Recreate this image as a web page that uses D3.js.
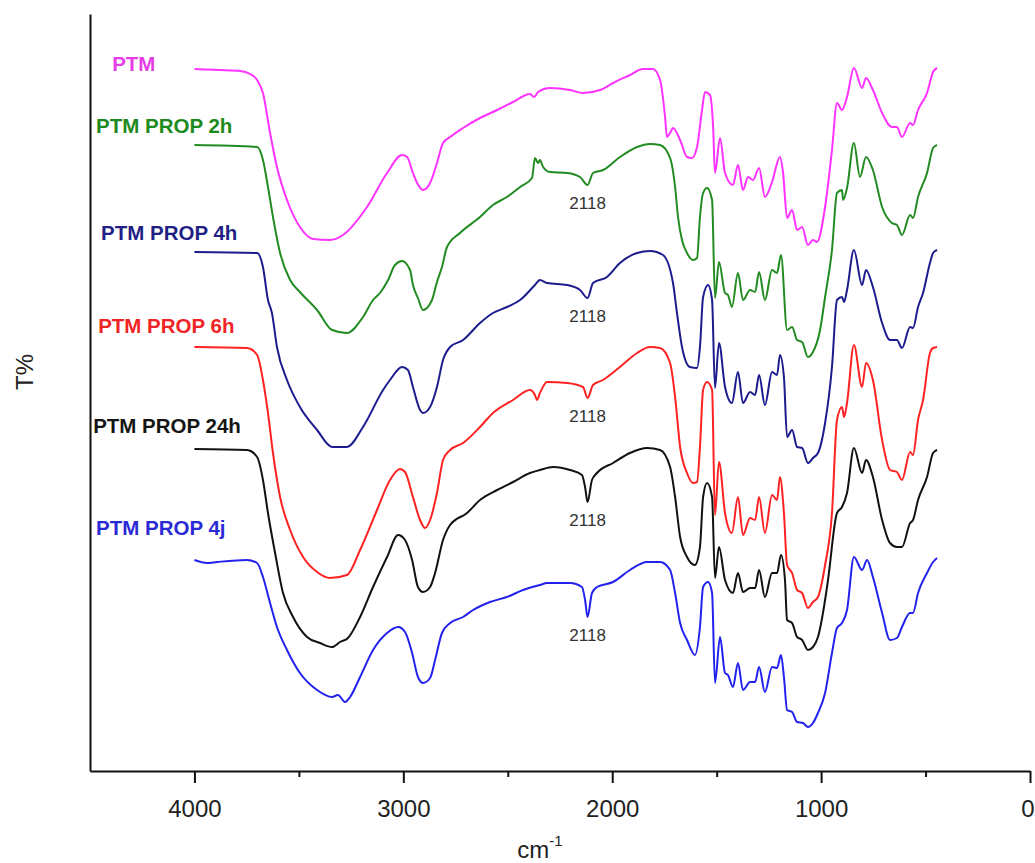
<!DOCTYPE html>
<html><head><meta charset="utf-8">
<script src="https://cdn.jsdelivr.net/npm/d3@7"></script>
<style>
body{margin:0;background:#fff;}
svg{display:block;font-family:"Liberation Sans",Arial,sans-serif;}
</style></head>
<body><svg id="c" width="1035" height="863"></svg>
<script>
// ---- data: [wavenumber cm-1, T% (arbitrary offset units)] ----
const seriesNames = ["PTM","PTM PROP 2h","PTM PROP 4h","PTM PROP 6h","PTM PROP 24h","PTM PROP 4j"];
const xTicksMajor = [4000,3000,2000,1000,0];
const xTicksMinor = [3500,2500,1500,500];
const peakLabel = "2118";
const peakWn = 2118;

const ptm = [[4000,70.2],[3877,70.1],[3782,70.0],[3734,69.7],[3700,69.1],[3672,67.8],[3638,63.8],[3605,60.4],[3557,57.1],[3495,54.4],[3432,53.2],[3351,53.1],[3289,53.6],[3174,56.4],[3078,59.8],[3006,61.6],[2982,61.4],[2954,59.8],[2934,58.8],[2906,58.1],[2872,58.8],[2839,60.8],[2810,62.8],[2776,63.4],[2714,64.3],[2633,65.3],[2551,66.1],[2475,66.9],[2394,67.7],[2374,67.4],[2355,67.9],[2298,68.3],[2202,68.1],[2140,67.8],[2058,68.1],[1996,68.8],[1915,69.6],[1853,70.2],[1805,70.2],[1771,69.1],[1747,65.4],[1738,63.4],[1723,63.8],[1709,64.3],[1675,63.1],[1642,61.4],[1618,61.3],[1594,62.4],[1570,66.1],[1556,67.9],[1532,67.6],[1517,64.4],[1508,59.8],[1484,63.3],[1460,59.8],[1422,58.6],[1398,60.6],[1374,58.1],[1350,59.4],[1326,59.1],[1297,60.3],[1269,57.4],[1235,58.9],[1197,61.4],[1182,59.8],[1163,55.3],[1139,56.1],[1115,54.1],[1091,54.4],[1063,52.6],[1039,53.1],[1020,52.9],[981,56.4],[948,62.1],[924,66.8],[900,66.1],[876,67.4],[843,70.3],[804,68.3],[785,69.3],[752,68.1],[708,65.8],[661,64.4],[637,64.4],[613,63.4],[574,64.8],[560,64.6],[536,66.1],[493,67.8],[464,69.9],[445,70.3]];

const prop2h = [[4000,62.6],[3700,62.4],[3672,61.1],[3648,58.4],[3624,55.4],[3590,51.8],[3542,49.1],[3495,47.9],[3413,46.1],[3341,44.1],[3270,43.8],[3193,45.4],[3145,47.1],[3112,47.8],[3073,49.1],[3040,50.6],[3006,51.0],[2968,50.1],[2954,48.6],[2930,47.3],[2906,46.1],[2863,47.1],[2839,48.9],[2815,50.4],[2791,52.4],[2729,53.8],[2633,55.4],[2571,56.6],[2504,57.4],[2441,58.4],[2384,59.3],[2370,61.3],[2355,60.8],[2346,61.1],[2331,60.4],[2298,59.9],[2216,59.8],[2154,59.4],[2118,58.6],[2092,59.8],[2044,60.1],[1963,61.4],[1881,62.4],[1819,62.7],[1771,62.6],[1723,61.3],[1699,58.4],[1685,55.4],[1666,53.1],[1642,51.8],[1613,51.1],[1594,51.3],[1580,55.4],[1565,57.8],[1546,58.3],[1522,57.1],[1508,47.3],[1489,50.9],[1460,47.8],[1446,47.6],[1427,46.4],[1398,49.8],[1374,47.1],[1340,48.1],[1316,47.9],[1297,49.9],[1269,47.1],[1235,50.1],[1211,49.8],[1192,51.6],[1163,44.1],[1139,44.4],[1115,43.1],[1091,42.9],[1063,41.4],[1039,41.9],[1005,44.1],[981,47.4],[948,52.1],[924,57.8],[900,58.1],[895,57.1],[876,58.3],[843,62.8],[814,59.4],[785,61.4],[752,60.1],[708,56.4],[661,54.8],[637,54.6],[613,53.6],[574,55.6],[560,55.3],[536,57.4],[493,59.8],[464,62.3],[445,62.6]];

const prop4h = [[4000,51.9],[3700,51.8],[3672,50.4],[3648,47.1],[3629,45.8],[3605,42.4],[3557,39.1],[3495,36.4],[3413,34.1],[3341,32.4],[3270,32.4],[3193,34.4],[3097,38.1],[3064,39.1],[3006,40.4],[2978,40.1],[2954,38.4],[2920,36.1],[2906,35.8],[2872,36.4],[2839,38.4],[2810,41.1],[2776,42.4],[2714,43.1],[2633,44.8],[2571,45.8],[2504,46.4],[2441,47.1],[2370,48.6],[2346,49.1],[2312,48.8],[2216,48.6],[2154,48.1],[2118,47.3],[2092,48.8],[2025,49.4],[1963,50.8],[1881,51.8],[1819,52.0],[1757,51.6],[1709,48.8],[1690,45.8],[1666,42.4],[1628,40.4],[1594,40.3],[1580,42.4],[1565,47.4],[1541,48.6],[1522,47.1],[1508,38.3],[1489,42.8],[1460,38.4],[1427,36.8],[1398,39.9],[1374,36.8],[1340,37.9],[1316,37.6],[1297,39.6],[1269,36.6],[1235,39.9],[1211,39.6],[1197,41.6],[1178,39.4],[1163,33.4],[1139,34.1],[1115,32.4],[1091,32.3],[1063,30.8],[1039,31.3],[1015,31.8],[981,34.8],[948,40.4],[924,47.1],[900,47.4],[890,46.9],[876,48.1],[843,52.1],[804,48.6],[785,50.1],[752,48.4],[708,44.8],[670,43.1],[637,43.1],[613,42.3],[574,44.4],[560,44.3],[536,46.4],[512,47.8],[479,50.8],[464,51.8],[445,52.1]];

const prop6h = [[4000,42.4],[3748,42.3],[3700,41.6],[3672,39.1],[3648,35.8],[3624,31.8],[3590,27.4],[3542,24.1],[3480,21.4],[3413,19.9],[3351,19.3],[3270,19.6],[3207,22.1],[3126,26.1],[3064,29.1],[3016,30.2],[2992,29.9],[2954,27.4],[2920,25.1],[2896,24.3],[2872,25.1],[2839,27.8],[2810,31.1],[2776,32.1],[2714,32.8],[2633,34.4],[2571,35.8],[2475,37.1],[2394,38.1],[2370,37.6],[2360,37.1],[2346,37.8],[2312,38.9],[2216,38.8],[2140,38.4],[2118,37.3],[2092,38.6],[2044,39.1],[1963,40.4],[1881,41.8],[1819,42.4],[1771,42.3],[1723,40.8],[1699,37.4],[1675,32.4],[1642,29.8],[1613,28.8],[1594,28.9],[1580,32.4],[1565,38.1],[1546,38.9],[1522,38.1],[1508,25.6],[1489,30.9],[1460,25.8],[1427,23.8],[1398,27.4],[1374,23.6],[1340,25.3],[1316,25.1],[1297,27.4],[1269,23.8],[1235,27.6],[1211,27.1],[1197,29.4],[1178,25.8],[1163,20.6],[1139,19.8],[1115,18.1],[1091,17.8],[1063,16.3],[1039,16.9],[1015,17.4],[981,20.6],[948,25.8],[924,35.1],[900,36.4],[890,35.4],[876,36.8],[843,42.6],[804,38.4],[785,40.8],[752,39.1],[708,33.1],[670,30.1],[637,29.9],[613,29.1],[574,31.9],[560,31.6],[536,35.1],[512,37.1],[479,41.8],[464,42.3],[445,42.4]];

const prop24h = [[4000,32.2],[3748,32.1],[3700,31.4],[3672,29.1],[3648,25.8],[3614,21.8],[3576,17.8],[3528,15.4],[3461,13.4],[3399,12.8],[3341,12.4],[3303,12.9],[3265,13.3],[3207,15.4],[3145,18.4],[3078,21.4],[3025,23.6],[2992,23.1],[2958,21.1],[2930,18.4],[2906,17.9],[2872,18.4],[2848,19.8],[2810,23.1],[2776,24.6],[2695,25.8],[2633,27.1],[2551,28.1],[2475,28.9],[2394,29.8],[2346,30.1],[2283,30.4],[2202,30.1],[2145,29.6],[2130,28.4],[2118,26.9],[2097,29.1],[2073,29.8],[1996,30.8],[1915,31.8],[1833,32.3],[1771,32.1],[1723,30.4],[1699,27.4],[1675,23.4],[1642,21.4],[1604,20.6],[1580,22.4],[1565,27.4],[1546,28.8],[1522,27.4],[1508,19.3],[1489,22.4],[1460,19.1],[1422,17.8],[1398,19.8],[1374,17.9],[1340,18.3],[1316,18.3],[1297,20.1],[1269,17.4],[1235,19.8],[1211,19.8],[1192,21.6],[1173,19.1],[1163,15.1],[1139,14.8],[1115,13.4],[1091,13.1],[1063,12.1],[1039,12.4],[1015,13.4],[981,17.1],[967,19.1],[924,25.8],[900,26.4],[876,27.8],[843,32.3],[804,29.8],[785,31.1],[752,29.4],[708,25.1],[670,22.8],[637,22.4],[613,22.4],[574,24.8],[560,25.1],[536,27.1],[493,29.4],[464,31.8],[445,32.1]];

const prop4j = [[4000,21.1],[3940,20.8],[3892,20.9],[3748,21.1],[3700,20.8],[3672,19.4],[3638,16.8],[3605,14.4],[3557,12.1],[3495,9.8],[3413,8.1],[3341,7.4],[3313,7.6],[3279,6.9],[3255,7.4],[3207,9.4],[3145,12.1],[3078,13.8],[3025,14.4],[2992,13.9],[2958,11.8],[2930,9.4],[2906,8.8],[2872,9.3],[2848,11.1],[2815,13.8],[2776,14.8],[2714,15.4],[2666,16.1],[2585,16.9],[2504,17.4],[2427,18.1],[2346,18.6],[2312,18.8],[2202,18.8],[2145,18.4],[2130,17.1],[2118,15.4],[2097,17.8],[2073,18.4],[1996,18.9],[1915,20.1],[1833,20.9],[1771,20.9],[1723,20.1],[1699,17.8],[1675,14.8],[1642,13.1],[1604,11.6],[1580,14.4],[1565,18.4],[1541,18.9],[1522,17.8],[1508,8.8],[1484,13.4],[1460,9.8],[1446,9.6],[1422,8.4],[1398,10.8],[1374,8.1],[1340,8.9],[1316,8.9],[1297,10.4],[1269,7.9],[1235,10.4],[1211,10.3],[1192,11.6],[1178,9.4],[1163,6.1],[1139,5.9],[1115,4.9],[1087,4.8],[1063,4.4],[1039,4.8],[1015,5.8],[981,7.8],[948,11.8],[924,14.3],[900,14.8],[876,16.1],[843,21.4],[804,20.1],[780,21.1],[752,19.4],[708,15.8],[670,13.1],[637,13.3],[613,14.4],[574,15.8],[560,15.8],[536,17.8],[493,19.8],[464,20.9],[445,21.3]];

const seriesData = [ptm, prop2h, prop4h, prop6h, prop24h, prop4j];
// label anchors [wavenumber, T%]
const labelAnchors = [[4394,70.0],[4471,63.8],[4447,53.1],[4461,43.8],[4485,33.8],[4471,23.6]];
const annotated = [false,true,true,true,true,true];

// ---- styles ----
const lineColors = ["#ff33ff","#228b22","#1c1c8e","#ff2222","#111111","#2222ee"];
const labelColors = ["#e63ee6","#1d8a1d","#1f1f86","#f02424","#151515","#2a2ad6"];

const svg = d3.select("#c");
const x = d3.scaleLinear().domain([4500,0]).range([90,1030]);
const y = d3.scaleLinear().domain([0,75.7]).range([771,14]);

const line = d3.line().x(d=>x(d[0])).y(d=>y(d[1])).curve(d3.curveMonotoneX);

seriesData.forEach((s,i)=>{
  svg.append("path").datum(s).attr("d",line)
    .attr("fill","none").attr("stroke",lineColors[i]).attr("stroke-width",2)
    .attr("stroke-linejoin","round");
});

// labels
seriesNames.forEach((n,i)=>{
  svg.append("text").attr("x",x(labelAnchors[i][0])).attr("y",y(labelAnchors[i][1]))
    .attr("fill",labelColors[i]).attr("font-weight","bold").attr("font-size",20.5)
    .text(n);
});

// 2118 annotations
seriesData.forEach((s,i)=>{
  if(!annotated[i]) return;
  const p = s.find(d=>d[0]===peakWn);
  svg.append("text").attr("x",x(peakWn)).attr("y",y(p[1])+24)
    .attr("text-anchor","middle").attr("font-size",17).attr("fill","#333")
    .text(peakLabel);
});

// axes
const gx = svg.append("g").attr("transform","translate(0,771)");
gx.call(d3.axisBottom(x).tickValues(xTicksMajor).tickSize(12).tickSizeOuter(0).tickPadding(17).tickFormat(d3.format("d")));
gx.selectAll("text").attr("font-size",24).attr("fill","#222").attr("font-family","Liberation Sans, Arial, sans-serif");
gx.selectAll(".tick").filter(d=>d===0).select("text").attr("text-anchor","end").attr("x",4);
gx.selectAll("line").attr("stroke","#111").attr("stroke-width",2);
gx.select(".domain").attr("stroke","#111").attr("stroke-width",2);
const gm = svg.append("g").attr("transform","translate(0,771)");
gm.call(d3.axisBottom(x).tickValues(xTicksMinor).tickSize(6).tickSizeOuter(0).tickFormat(""));
gm.select(".domain").remove();
gm.selectAll("line").attr("stroke","#111").attr("stroke-width",2);

const gy = svg.append("g").attr("transform","translate(90,0)");
gy.call(d3.axisLeft(y).tickValues([]).tickSizeOuter(0));
gy.select(".domain").attr("stroke","#111").attr("stroke-width",2);

// axis titles
svg.append("text").attr("transform","translate(33,372) rotate(-90)")
  .attr("text-anchor","middle").attr("font-size",24).attr("fill","#222").text("T%");
const t = svg.append("text").attr("x",540).attr("y",858).attr("text-anchor","middle")
  .attr("font-size",24).attr("fill","#222");
t.append("tspan").text("cm");
t.append("tspan").attr("dy",-12).attr("font-size",15).text("-1");
</script></body></html>
